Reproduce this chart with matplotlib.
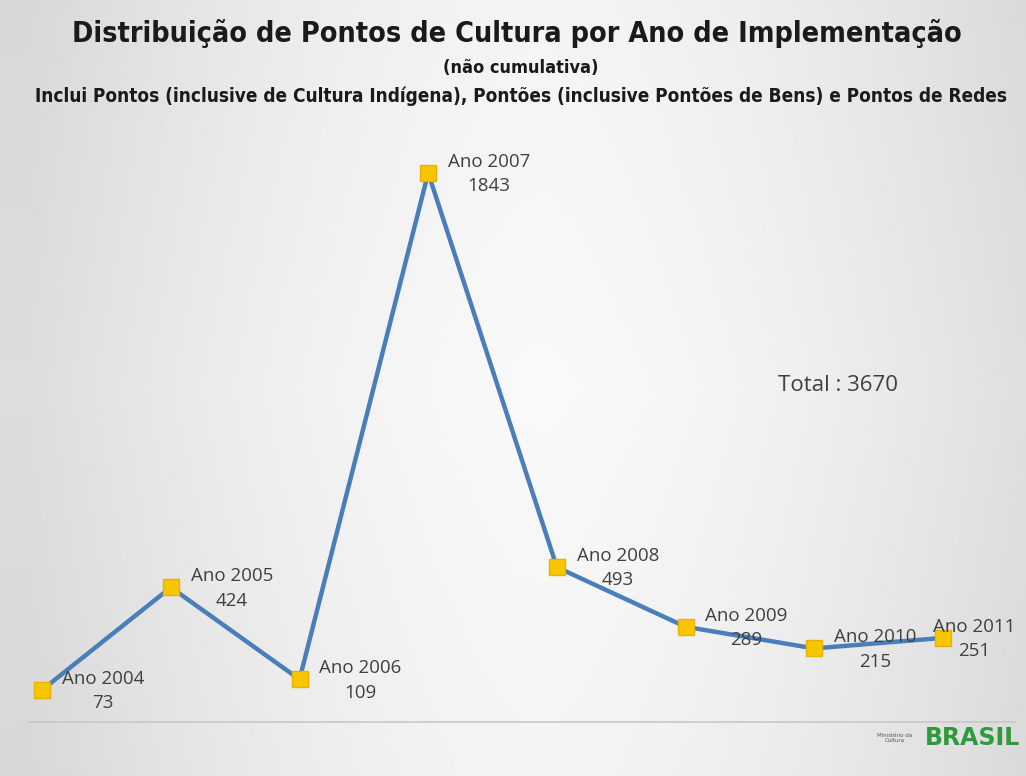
import numpy as np
import matplotlib.pyplot as plt

anos = [2004, 2005, 2006, 2007, 2008, 2009, 2010, 2011]
pontos = [73, 424, 109, 1843, 493, 289, 215, 251]
total = 3670

titulo = 'Distribuição de Pontos de Cultura por Ano de Implementação'
subtitulo = '(não cumulativa)'
nota = ('Inclui Pontos (inclusive de Cultura Indígena), Pontões (inclusive '
        'Pontões de Bens) e Pontos de Redes')

W, H = 1026, 776
fig = plt.figure(figsize=(W / 100, H / 100), dpi=100)

# slide background: light centre fading to grey at the edges
bg = fig.add_axes([0, 0, 1, 1])
xx, yy = np.meshgrid(np.linspace(-1, 1, 400), np.linspace(-1, 1, 300))
shade = 0.975 - 0.11 * np.clip(np.abs(xx - 0.05) ** 1.6, 0, 1) - 0.02 * np.abs(yy)
bg.imshow(shade, cmap='gray', vmin=0, vmax=1, aspect='auto',
          extent=[0, 1, 0, 1], interpolation='bilinear')
bg.set_axis_off()

ax = fig.add_axes([28 / W, 1 - 722 / H, (1015 - 28) / W, (722 - 140) / H])
ax.patch.set_alpha(0)
ax.plot(anos, pontos, '-', color='#4a7ebb', lw=3.2, zorder=2)
ax.plot(anos, pontos, 's', color='#f7c600', mec='#e8b000', mew=1,
        ms=12, zorder=3)
for a, p in zip(anos, pontos):
    # last label sits over its marker, the others to the right
    dx = 31 if a == anos[-1] else 61
    ax.annotate(f'Ano {a}\n{p}', (a, p), xytext=(dx, -1),
                textcoords='offset pixels', ha='center', va='center',
                multialignment='center', fontsize=13.5, color='#404040',
                family='Open Sans', linespacing=1.45, zorder=4)

ax.text(2009.72, 1117, f'Total : {total}', fontsize=16, color='#404040',
        family='Open Sans', va='center', ha='left')

ax.set_xlim(2003.89, 2011.56)
ax.set_ylim(-37, 1956)
for s in ['top', 'right', 'left']:
    ax.spines[s].set_visible(False)
ax.spines['bottom'].set_color('#c8c8c8')
ax.spines['bottom'].set_linewidth(1.2)
ax.set_xticks([])
ax.set_yticks([])

fig.text(517 / W, 1 - 33 / H, titulo, ha='center', va='center', fontsize=20.6,
         family='DejaVu Sans', stretch='condensed', weight='bold',
         color='#1a1a1a')
fig.text(521 / W, 1 - 68 / H, subtitulo, ha='center', va='center', fontsize=13,
         family='DejaVu Sans', stretch='condensed', weight='bold',
         color='#1a1a1a')
fig.text(521 / W, 1 - 96 / H, nota, ha='center', va='center', fontsize=13.6,
         family='DejaVu Sans', stretch='condensed', weight='bold',
         color='#1a1a1a')

# ministry / government mark, bottom right
fig.text(895 / W, 1 - 738 / H, 'Ministério da\nCultura', ha='center',
         va='center', fontsize=4, color='#555555', family='DejaVu Sans')
fig.text(1020 / W, 1 - 738 / H, 'BRASIL', ha='right', va='center',
         fontsize=17, weight='bold', color='#2f9a3c', family='DejaVu Sans')

fig.savefig('out.png', dpi=100)
